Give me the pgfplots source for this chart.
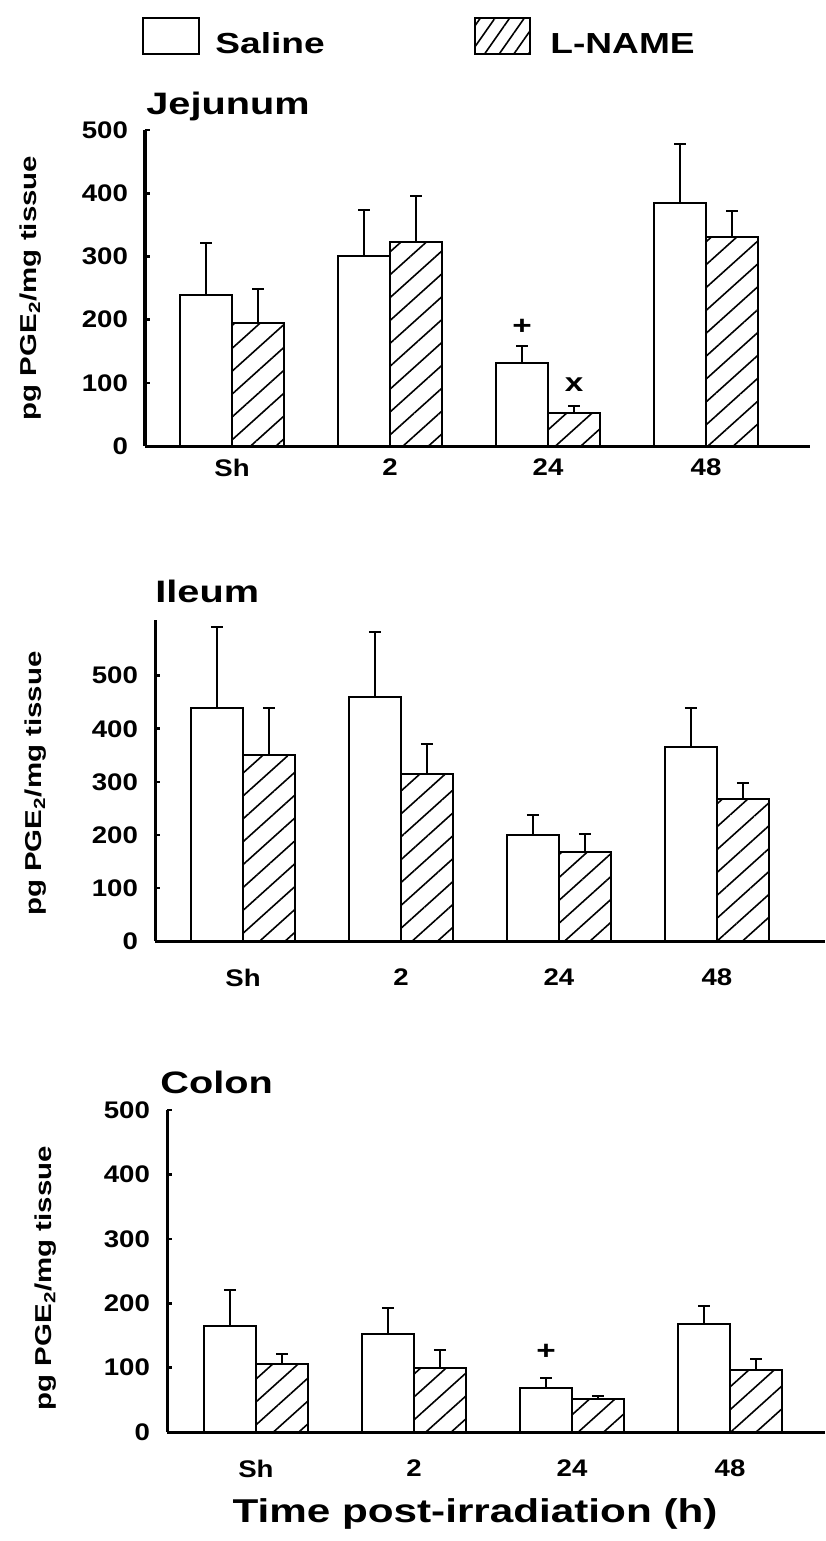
\documentclass[border=0pt]{standalone}
\usepackage{fontspec}
\newfontfamily\pf{Liberation Sans}[FakeStretch=1.28]
\newfontfamily\pft{Liberation Sans}[FakeStretch=1.15]
\usepackage{pgfplots}
\usepackage{pgfplotstable}
\pgfplotsset{compat=1.18}
\usetikzlibrary{patterns.meta}
\newcommand\fs[1]{\fontsize{#1}{#1}\selectfont}

% x: 0=Sh, 1=2 h, 2=24 h, 3=48 h ; s/se = Saline mean/SEM ; l/le = L-NAME mean/SEM
\pgfplotstableread{
x s se l le
0 239 83 195 54
1 301 72 323 73
2 132 27 53 11
3 385 93 331 41
}\jej
\pgfplotstableread{
x s se l le
0 440 152 350 90
1 459 123 315 57
2 199 38 167 35
3 366 73 268 29
}\ile
\pgfplotstableread{
x s se l le
0 165 55 105 16
1 152 41 99 29
2 68 16 52 4
3 168 27 96 18
}\col

\pgfplotsset{
  panel/.style={
    scale only axis, anchor=south west, clip=false,
    ymin=0,
    axis lines=left,
    axis line style={-, line width=1.5pt},
    ybar=0pt, bar width=26pt,
    xtick={0,1,2,3}, xticklabels={Sh,2,24,48},
    xtick style={draw=none},
    ytick={0,100,200,300,400,500},
    tick align=inside, major tick length=2.5pt,
    ytick style={line width=1.3pt, black},
    /pgf/number format/assume math mode=true,
    ticklabel style={font=\pft\bfseries\fs{12}},
    yticklabel style={xshift=-5pt},
    ylabel={pg PGE\textsubscript{2}/mg tissue},
    ylabel style={font=\pf\bfseries\fs{11.5}, anchor=center},
  },
  errb/.style={error bars/.cd, y dir=plus, y explicit,
    error bar style={line width=0.8pt, black},
    error mark options={rotate=90, line width=1pt, black, mark size=3pt}},
  saline/.style={draw=black, fill=white, line width=1pt, errb},
  lname/.style={draw=black, line width=1pt,
    pattern={Lines[angle=42,distance=8.5pt,line width=0.8pt]}, errb},
}

\begin{document}
\begin{tikzpicture}
% legend
\draw[line width=1pt] (71.5pt,-9pt) rectangle (99.5pt,-27pt);
\node[anchor=base west, inner sep=0, font=\pf\bfseries\fs{14.5}] at (107.5pt,-27pt) {Saline};
\draw[line width=1pt, pattern={Lines[angle=55,distance=6pt,line width=0.8pt]}] (237.5pt,-9pt) rectangle (265pt,-27pt);
\node[anchor=base west, inner sep=0, font=\pf\bfseries\fs{14.5}] at (275pt,-27pt) {L-NAME};

% Jejunum
\node[anchor=base west, inner sep=0, font=\pf\bfseries\fs{15.5}] at (73pt,-57.5pt) {Jejunum};
\begin{axis}[panel, at={(72.5pt,-223pt)}, width=332.5pt, height=158pt,
  xmin=-0.551, xmax=3.658, ymax=500,
  ylabel style={at={(axis description cs:-0.172,0.5)}},
  xticklabel style={yshift=-3pt}]
\addplot[saline] table[x=x, y=s, y error=se]{\jej};
\addplot[lname] table[x=x, y=l, y error=le]{\jej};
\node[font=\pf\bfseries\fs{13}, xshift=-13pt] at (axis cs:2,188) {+};
\node[font=\pf\bfseries\fs{13}, xshift=13pt] at (axis cs:2,97) {x};
\end{axis}

% Ileum
\node[anchor=base west, inner sep=0, font=\pf\bfseries\fs{15.5}] at (77.5pt,-301pt) {Ileum};
\begin{axis}[panel, at={(77.5pt,-470.5pt)}, width=335pt, height=160.5pt,
  xmin=-0.557, xmax=3.684, ymax=605,
  ylabel style={at={(axis description cs:-0.178,0.49)}},
  xticklabel style={yshift=-10.5pt}]
\addplot[saline] table[x=x, y=s, y error=se]{\ile};
\addplot[lname] table[x=x, y=l, y error=le]{\ile};
\end{axis}

% Colon
\node[anchor=base west, inner sep=0, font=\pf\bfseries\fs{15.5}] at (80pt,-546.5pt) {Colon};
\begin{axis}[panel, at={(83.5pt,-716pt)}, width=329pt, height=161pt,
  xmin=-0.563, xmax=3.601, ymax=500,
  ylabel style={at={(axis description cs:-0.184,0.478)}},
  xticklabel style={yshift=-10.5pt}]
\addplot[saline] table[x=x, y=s, y error=se]{\col};
\addplot[lname] table[x=x, y=l, y error=le]{\col};
\node[font=\pf\bfseries\fs{13}, xshift=-13pt] at (axis cs:2,124) {+};
\end{axis}

\node[anchor=base, inner sep=0, font=\pf\bfseries\fs{16.5}] at (237.5pt,-761pt) {Time post-irradiation (h)};

\pgfresetboundingbox
\useasboundingbox (0,0) rectangle (412.5pt,-770.5pt);
\end{tikzpicture}
\end{document}
